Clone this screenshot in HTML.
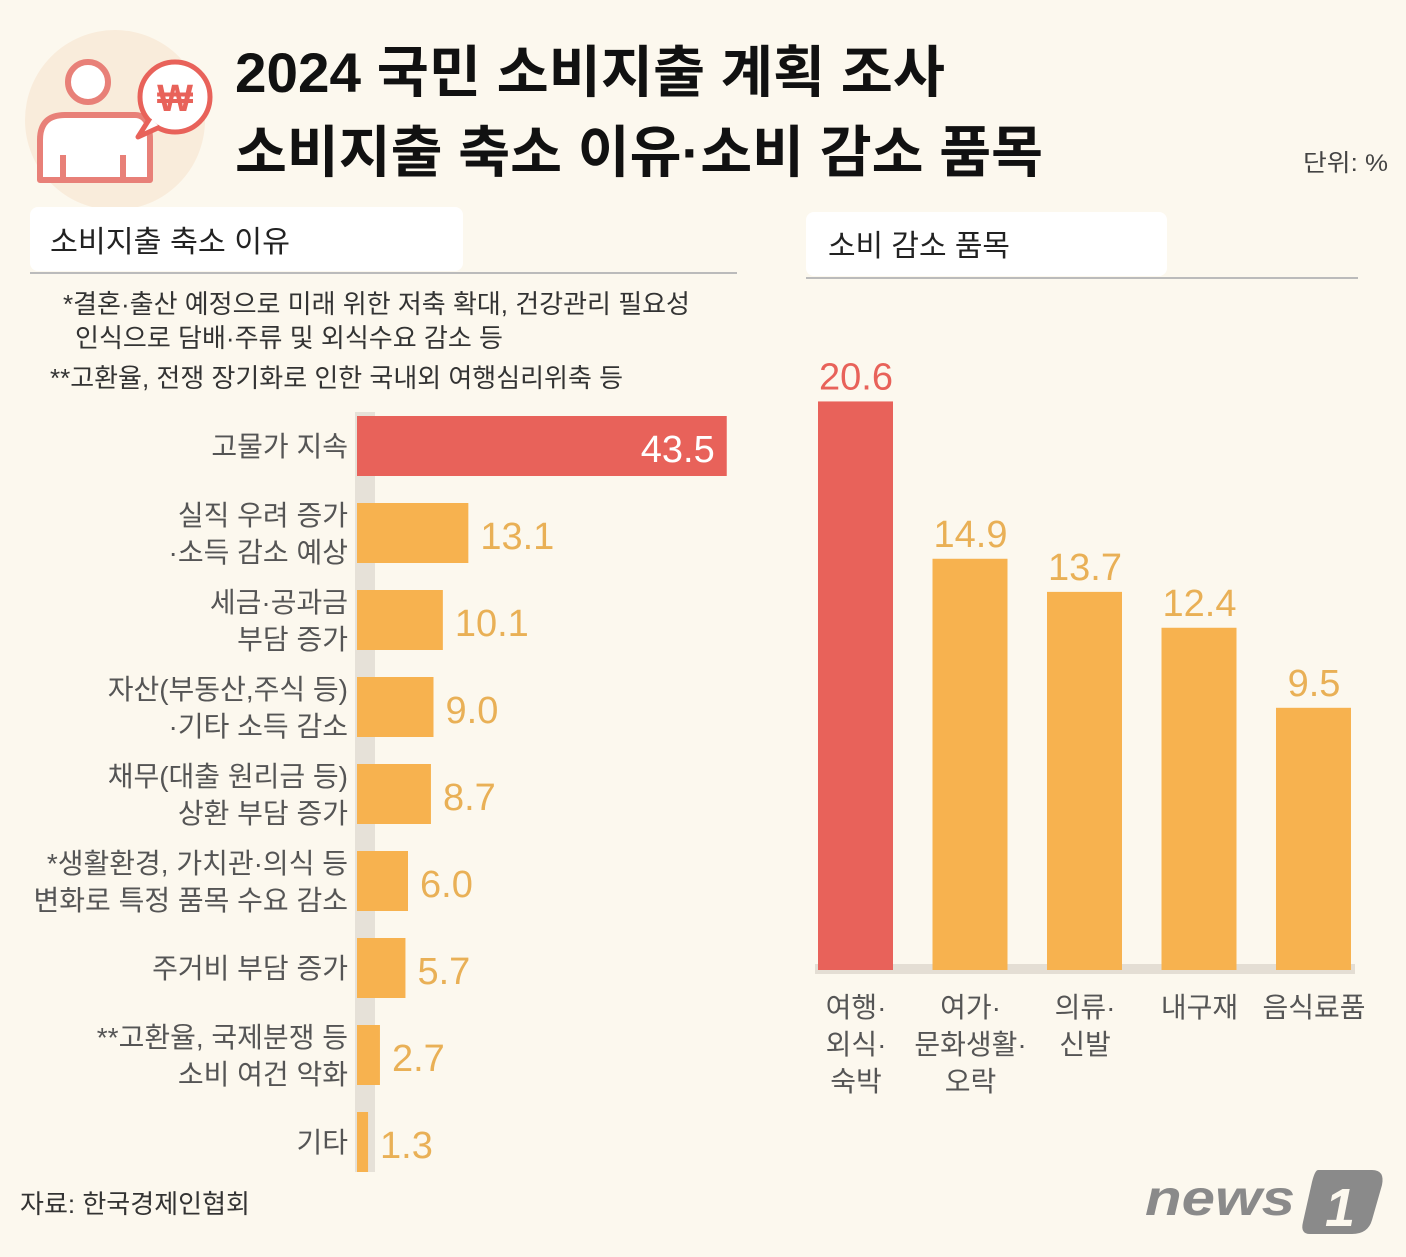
<!DOCTYPE html>
<html><head><meta charset="utf-8"><style>
html,body{margin:0;padding:0;background:#fcf8ee;}
svg{display:block;font-family:"Liberation Sans","Noto Sans CJK KR",sans-serif;}
</style></head><body>
<svg width="1406" height="1257" viewBox="0 0 1406 1257">
<rect x="0" y="0" width="1406" height="1257" fill="#fcf8ee"/>
<g>
<circle cx="115" cy="120" r="90" fill="#f9ecdb"/>
<circle cx="88" cy="82" r="20" fill="#fff" stroke="#e88078" stroke-width="6"/>
<path d="M40 180 L40 140 Q40 115 65 115 L135 115 Q150 115 150 140 L150 180 Z" fill="#fff" stroke="#e88078" stroke-width="6" stroke-linejoin="round"/>
<line x1="63" y1="155" x2="63" y2="178" stroke="#e88078" stroke-width="6"/>
<line x1="123" y1="155" x2="123" y2="178" stroke="#e88078" stroke-width="6"/>
<circle cx="175" cy="97" r="35" fill="#fff" stroke="#e8625a" stroke-width="5"/>
<path d="M150 118 L138 137 L160 127" fill="#fff" stroke="#e8625a" stroke-width="5" stroke-linejoin="round"/>
<text x="175" y="111" text-anchor="middle" font-size="38" font-weight="bold" fill="#e8625a">₩</text>
</g>
<text x="235" y="92" font-size="56" font-weight="bold" fill="#111" textLength="710" lengthAdjust="spacingAndGlyphs">2024 국민 소비지출 계획 조사</text>
<text x="235" y="172" font-size="56" font-weight="bold" fill="#111" textLength="808" lengthAdjust="spacingAndGlyphs">소비지출 축소 이유·소비 감소 품목</text>
<text x="1303" y="171" font-size="24" fill="#444" textLength="85" lengthAdjust="spacingAndGlyphs">단위: %</text>

<rect x="30" y="207" width="433" height="64" rx="8" fill="#fff"/>
<line x1="30" y1="273" x2="737" y2="273" stroke="#bbb" stroke-width="2"/>
<text x="50" y="252" font-size="30" fill="#222" textLength="240" lengthAdjust="spacingAndGlyphs">소비지출 축소 이유</text>
<rect x="806" y="212" width="361" height="64" rx="8" fill="#fff"/>
<line x1="806" y1="278" x2="1358" y2="278" stroke="#bbb" stroke-width="2"/>
<text x="828" y="256" font-size="30" fill="#222" textLength="182" lengthAdjust="spacingAndGlyphs">소비 감소 품목</text>

<g fill="#333" font-size="26">
<text x="63" y="313" textLength="627" lengthAdjust="spacingAndGlyphs">*결혼·출산 예정으로 미래 위한 저축 확대, 건강관리 필요성</text>
<text x="75" y="347" textLength="428" lengthAdjust="spacingAndGlyphs">인식으로 담배·주류 및 외식수요 감소 등</text>
<text x="50" y="387" textLength="573" lengthAdjust="spacingAndGlyphs">**고환율, 전쟁 장기화로 인한 국내외 여행심리위축 등</text>
</g>

<rect x="355" y="412" width="20" height="760" fill="#e6e1d8"/>
<g id="left-chart"></g>
<g id="right-chart"></g>

<text x="20" y="1213" font-size="26" fill="#333" textLength="230" lengthAdjust="spacingAndGlyphs">자료: 한국경제인협회</text>
<g>
<text x="1145" y="1215" font-size="50" font-weight="bold" font-style="italic" fill="#8a8a8a" textLength="150" lengthAdjust="spacingAndGlyphs">news</text>
<path d="M1318 1170 L1372 1170 Q1385 1170 1382 1185 L1372 1220 Q1368 1234 1352 1234 L1310 1234 Q1300 1234 1303 1222 L1312 1182 Q1315 1170 1318 1170 Z" fill="#8a8a8a"/>
<text x="1340" y="1226" font-size="54" font-weight="bold" font-style="italic" fill="#fcf8ee" text-anchor="middle">1</text>
</g>
</svg>
<script>
const NS='http://www.w3.org/2000/svg';
const reasonLabels=[["고물가 지속"],["실직 우려 증가","·소득 감소 예상"],["세금·공과금","부담 증가"],["자산(부동산,주식 등)","·기타 소득 감소"],["채무(대출 원리금 등)","상환 부담 증가"],["*생활환경, 가치관·의식 등","변화로 특정 품목 수요 감소"],["주거비 부담 증가"],["**고환율, 국제분쟁 등","소비 여건 악화"],["기타"]];
const reasonValues=[43.5,13.1,10.1,9.0,8.7,6.0,5.7,2.7,1.3];
const itemLabels=[["여행·","외식·","숙박"],["여가·","문화생활·","오락"],["의류·","신발"],["내구재"],["음식료품"]];
const itemValues=[20.6,14.9,13.7,12.4,9.5];

function mk(tag,attrs,parent){const e=document.createElementNS(NS,tag);for(const k in attrs)e.setAttribute(k,attrs[k]);parent.appendChild(e);return e;}
const lx=v=>357+v*8.5;
const ly=i=>416+i*87;
const L=document.getElementById('left-chart');
reasonValues.forEach((v,i)=>{
  const y=ly(i);const top=i===0;
  const r=mk('rect',{x:357,y:y,width:lx(v)-357,height:60,fill:top?'#e8625a':'#f7b24f'},L);
  
  
  const t=mk('text',{x:top?lx(v)-12:lx(v)+12,y:y+46,'font-size':38,fill:top?'#fff':'#e9b056','text-anchor':top?'end':'start'},L);
  t.textContent=v.toFixed(1);
  
  
  const lines=reasonLabels[i];
  lines.forEach((s,j)=>{
    const by=lines.length===1?y+40:y+22+j*37;
    const tl=mk('text',{x:348,y:by,'font-size':28,fill:'#555','text-anchor':'end'},L);
    tl.textContent=s;
    
    
  });
});
const R=document.getElementById('right-chart');
const base=970, sc=27.6;
const rx=i=>818+i*114.5;
mk('rect',{x:815,y:base-6,width:540,height:10,fill:'#e4ded4'},R);
itemValues.forEach((v,i)=>{
  const x=rx(i),h=v*sc;
  const b=mk('rect',{x:x,y:base-h,width:75,height:h,fill:i===0?'#e8625a':'#f7b24f'},R);
  
  
  const t=mk('text',{x:x+38,y:base-h-12,'font-size':38,fill:i===0?'#e8625a':'#e9b056','text-anchor':'middle'},R);
  t.textContent=v.toFixed(1);
  
  
  itemLabels[i].forEach((s,j)=>{
    const tl=mk('text',{x:x+38,y:1017+j*37,'font-size':28,fill:'#555','text-anchor':'middle'},R);
    tl.textContent=s;
    
    
  });
});
</script>
</body></html>
